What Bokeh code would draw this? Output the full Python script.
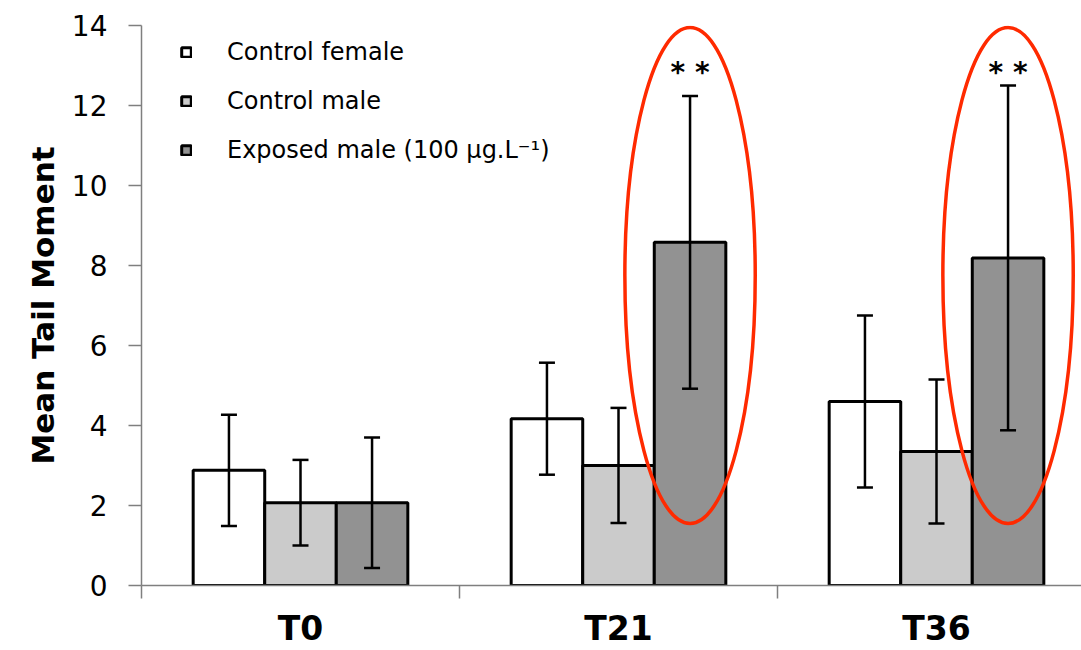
from bokeh.plotting import figure
from bokeh.models import (ColumnDataSource, Range1d, FixedTicker, Whisker, TeeHead,
                          Legend, LegendItem)
from bokeh.core.properties import value
from bokeh.embed import file_html
from bokeh.resources import INLINE

# ---- data ----
groups = ["T0", "T21", "T36"]
series = ["Control female", "Control male", "Exposed male (100 µg.L⁻¹)"]
control_female = [2.88, 4.17, 4.60]
control_female_err = [1.39, 1.40, 2.15]
control_male = [2.07, 3.00, 3.35]
control_male_err = [1.07, 1.44, 1.80]
exposed_male = [2.07, 8.58, 8.19]
exposed_male_err = [1.63, 3.66, 4.31]
significant = ["T21", "T36"]
sig_label = "* *"

colors = ["#ffffff", "#cbcbcb", "#929292"]
FONT = "DejaVu Sans"
BAR_W = 0.225
GROUP_PX = 318.0

p = figure(width=1081, height=650, output_backend="svg", toolbar_location=None,
           x_range=Range1d(0, 940 / GROUP_PX), y_range=Range1d(0, 14),
           min_border_left=141, min_border_right=0, min_border_top=25, min_border_bottom=64)
p.outline_line_color = None
p.xgrid.visible = False
p.ygrid.visible = False
p.background_fill_color = "white"
p.border_fill_color = "white"

all_vals = [control_female, control_male, exposed_male]
all_errs = [control_female_err, control_male_err, exposed_male_err]
offsets = [-BAR_W, 0.0, BAR_W]
items = []
bar_x_all = []
for k in range(3):
    xs = [i + 0.5 + offsets[k] for i in range(len(groups))]
    bar_x_all.append(xs)
    src = ColumnDataSource(dict(x=xs, top=all_vals[k],
                                upper=[v + e for v, e in zip(all_vals[k], all_errs[k])],
                                lower=[v - e for v, e in zip(all_vals[k], all_errs[k])]))
    r = p.vbar(x="x", top="top", bottom=0, width=BAR_W, source=src,
               fill_color=colors[k], line_color="black", line_width=3)
    items.append(LegendItem(label=series[k], renderers=[r]))
    w = Whisker(base="x", upper="upper", lower="lower", source=src, level="overlay",
                line_color="black", line_width=2.5,
                upper_head=TeeHead(size=16, line_color="black", line_width=2.5),
                lower_head=TeeHead(size=16, line_color="black", line_width=2.5))
    p.add_layout(w)

# significance ellipses and stars on exposed bars
sx = [bar_x_all[2][groups.index(g)] for g in significant]
ELL_CY, ELL_H, ELL_W = 7.75, 12.4, 0.41
p.ellipse(x=sx, y=[ELL_CY] * len(sx), width=ELL_W, height=ELL_H,
          fill_color=None, line_color="#ff2a00", line_width=3.5)
p.text(x=sx, y=[12.83] * len(sx), text=[sig_label] * len(sx),
       text_font=value(FONT), text_font_size="28px", text_font_style="bold",
       text_align="center", text_baseline="middle", text_color="black")

legend = Legend(items=items, location=(39, 411), orientation="vertical",
                glyph_width=12, glyph_height=12, label_height=49, spacing=0,
                label_standoff=35, padding=0, margin=0,
                border_line_color=None, background_fill_alpha=0,
                label_text_font=FONT, label_text_font_size="24px",
                label_text_color="black")
p.add_layout(legend)

# y axis
ya = p.yaxis[0]
ya.ticker = FixedTicker(ticks=list(range(0, 15, 2)))
ya.axis_label = "Mean Tail Moment"
ya.axis_label_text_font = FONT
ya.axis_label_text_font_size = "31px"
ya.axis_label_text_font_style = "bold"
ya.axis_label_text_color = "black"
ya.axis_label_standoff = 8
ya.major_label_text_font = FONT
ya.major_label_text_font_size = "28px"
ya.major_label_text_color = "black"
ya.major_label_standoff = 21
ya.axis_line_color = "#7f7f7f"
ya.axis_line_width = 1.5
ya.major_tick_line_color = "#7f7f7f"
ya.major_tick_line_width = 1.5
ya.major_tick_out = 13
ya.major_tick_in = 0
ya.minor_tick_line_color = None

# x axis
xa = p.xaxis[0]
xa.ticker = FixedTicker(ticks=[i + 0.5 for i in range(len(groups))],
                        minor_ticks=list(range(len(groups) + 1)))
xa.major_label_overrides = {i + 0.5: g for i, g in enumerate(groups)}
xa.major_label_text_font = FONT
xa.major_label_text_font_size = "33px"
xa.major_label_text_font_style = "bold"
xa.major_label_text_color = "black"
xa.major_label_standoff = 10
xa.axis_line_color = "#7f7f7f"
xa.axis_line_width = 1.5
xa.major_tick_line_color = None
xa.major_tick_out = 0
xa.major_tick_in = 0
xa.minor_tick_line_color = "#7f7f7f"
xa.minor_tick_line_width = 1.5
xa.minor_tick_out = 13
xa.minor_tick_in = 0

open("out.html", "w").write(file_html(p, INLINE))
